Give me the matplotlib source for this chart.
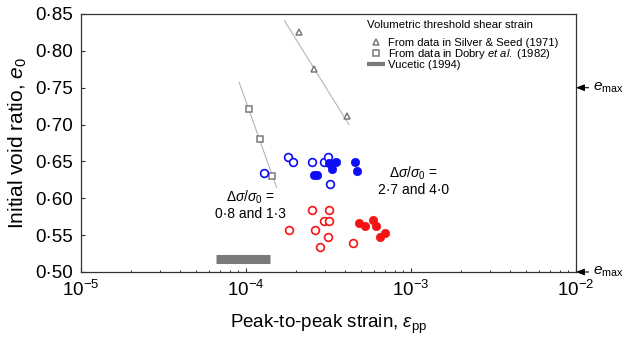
import matplotlib
matplotlib.use("Agg")
import matplotlib.pyplot as plt
from matplotlib.lines import Line2D
from matplotlib.ticker import FixedLocator, LogLocator, NullFormatter

plt.rcParams["font.family"] = ["Liberation Sans", "DejaVu Sans"]
plt.rcParams["mathtext.fontset"] = "custom"
plt.rcParams["mathtext.rm"] = "Liberation Sans"
plt.rcParams["mathtext.it"] = "Liberation Sans:italic"
plt.rcParams["mathtext.bf"] = "Liberation Sans:bold"
plt.rcParams["mathtext.fallback"] = "stixsans"

# Volumetric threshold shear strain from earlier studies
silver_strain = [2.09e-4, 2.57e-4, 4.11e-4]
silver_e = [0.826, 0.776, 0.711]
silver_fit_strain = [1.71e-4, 4.20e-4]
silver_fit_e = [0.841, 0.700]

dobry_strain = [1.04e-4, 1.22e-4, 1.44e-4]
dobry_e = [0.721, 0.680, 0.630]
dobry_fit_strain = [9.1e-5, 1.53e-4]
dobry_fit_e = [0.757, 0.615]

vucetic_strain = [6.6e-5, 1.40e-4]
vucetic_e = [0.517, 0.517]

# Test results
blue_open_strain = [1.80e-4, 1.93e-4, 2.50e-4, 2.97e-4, 3.13e-4, 1.29e-4, 3.21e-4]
blue_open_e = [0.656, 0.649, 0.649, 0.649, 0.656, 0.634, 0.619]
blue_fill_strain = [2.59e-4, 2.69e-4, 3.18e-4, 3.30e-4, 3.50e-4, 4.58e-4, 4.72e-4]
blue_fill_e = [0.632, 0.632, 0.648, 0.640, 0.649, 0.649, 0.637]

red_open_strain = [2.50e-4, 3.18e-4, 2.97e-4, 3.18e-4, 1.82e-4, 2.62e-4, 3.13e-4, 2.81e-4, 4.43e-4]
red_open_e = [0.584, 0.584, 0.569, 0.569, 0.557, 0.557, 0.548, 0.534, 0.539]
red_fill_strain = [4.84e-4, 5.26e-4, 5.86e-4, 6.11e-4, 6.52e-4, 6.95e-4]
red_fill_e = [0.567, 0.562, 0.571, 0.562, 0.548, 0.553]

y_ticks = [0.50, 0.55, 0.60, 0.65, 0.70, 0.75, 0.80, 0.85]
y_tick_labels = ["0·50", "0·55", "0·60", "0·65", "0·70", "0·75", "0·80", "0·85"]
e_marks = [0.75, 0.50]

GRAY = "#7a7a7a"
BLUE = "#0c0cf5"
RED = "#f51414"
SPINE = "#333333"

fig = plt.figure(figsize=(6.25, 3.41), dpi=100)
ax = fig.add_axes([81 / 625, 1 - 272 / 341, 495 / 625, 258 / 341])

ax.set_xscale("log")
ax.set_xlim(1e-5, 1e-2)
ax.set_ylim(0.50, 0.85)

# trend lines and reference data
ax.plot(silver_fit_strain, silver_fit_e, color="#b5b5b5", lw=0.8, zorder=1)
ax.plot(dobry_fit_strain, dobry_fit_e, color="#b5b5b5", lw=0.8, zorder=1)
ax.plot(silver_strain, silver_e, ls="none", marker="^", ms=5, mfc="white",
        mec=GRAY, mew=1.1, zorder=3)
ax.plot(dobry_strain, dobry_e, ls="none", marker="s", ms=5, mfc="white",
        mec=GRAY, mew=1.1, zorder=3)
ax.plot(vucetic_strain, vucetic_e, color=GRAY, lw=6.5, solid_capstyle="butt", zorder=2)

# test data
ax.plot(blue_open_strain, blue_open_e, ls="none", marker="o", ms=5.6, mfc="white",
        mec=BLUE, mew=1.2, zorder=4)
ax.plot(blue_fill_strain, blue_fill_e, ls="none", marker="o", ms=6, mfc=BLUE,
        mec=BLUE, mew=0.5, zorder=4)
ax.plot(red_open_strain, red_open_e, ls="none", marker="o", ms=5.6, mfc="white",
        mec=RED, mew=1.2, zorder=4)
ax.plot(red_fill_strain, red_fill_e, ls="none", marker="o", ms=6, mfc=RED,
        mec=RED, mew=0.5, zorder=4)

# axes styling
for s in ax.spines.values():
    s.set_color(SPINE)
    s.set_linewidth(0.9)
ax.yaxis.set_major_locator(FixedLocator(y_ticks))
ax.set_yticklabels(y_tick_labels)
ax.xaxis.set_major_locator(LogLocator(base=10, numticks=10))
ax.xaxis.set_minor_locator(LogLocator(base=10, subs=range(2, 10), numticks=10))
ax.xaxis.set_minor_formatter(NullFormatter())
ax.tick_params(axis="both", which="major", direction="in", length=3, width=0.8,
               color=SPINE, labelsize=13.5, pad=6)
ax.tick_params(axis="x", which="minor", direction="in", length=1.8, width=0.7, color=SPINE)
ax.tick_params(axis="y", which="both", right=False)
ax.tick_params(axis="x", which="both", top=False)

ax.set_xlabel(r"Peak-to-peak strain, $\varepsilon_{\rm pp}$", fontsize=13.5, labelpad=9)
ax.set_ylabel(r"Initial void ratio, $e_0$", fontsize=15, labelpad=4)

# stress ratio annotations
ax.text(1.057e-4, 0.591, "$\\Delta\\sigma/\\sigma_0$ =\n0·8 and 1·3", ha="center",
        va="center", fontsize=10, linespacing=1.1)
ax.text(1.04e-3, 0.6235, "$\\Delta\\sigma/\\sigma_0$ =\n2·7 and 4·0", ha="center",
        va="center", fontsize=10, linespacing=1.1)

# e_max markers on the right edge
for ev in e_marks:
    ax.annotate(r"$e_{\rm max}$", xy=(1.0, ev), xycoords=("axes fraction", "data"),
                xytext=(12, 0), textcoords="offset points", ha="left", va="center",
                fontsize=11, annotation_clip=False,
                arrowprops=dict(arrowstyle="-|>,head_length=0.45,head_width=0.18",
                                color="black", lw=0.8, shrinkA=1, shrinkB=0))

# legend
ax.text(285.7 / 495, 247 / 258, "Volumetric threshold shear strain", transform=ax.transAxes,
        ha="left", va="center", fontsize=8.2)
handles = [
    Line2D([], [], ls="none", marker="^", ms=5, mfc="white", mec=GRAY, mew=1.1),
    Line2D([], [], ls="none", marker="s", ms=5, mfc="white", mec=GRAY, mew=1.1),
    Line2D([], [], color=GRAY, lw=3, solid_capstyle="butt"),
]
labels = [
    "From data in Silver & Seed (1971)",
    r"From data in Dobry $\it{et\ al.}$ (1982)",
    "Vucetic (1994)",
]
leg = ax.legend(handles, labels, loc="upper left", bbox_to_anchor=(285.7 / 495, 234 / 258),
                frameon=False, fontsize=8.1, handlelength=1.6, handletextpad=0.3,
                labelspacing=-0.08, borderpad=0, borderaxespad=0)

fig.savefig("out.png", dpi=100)
